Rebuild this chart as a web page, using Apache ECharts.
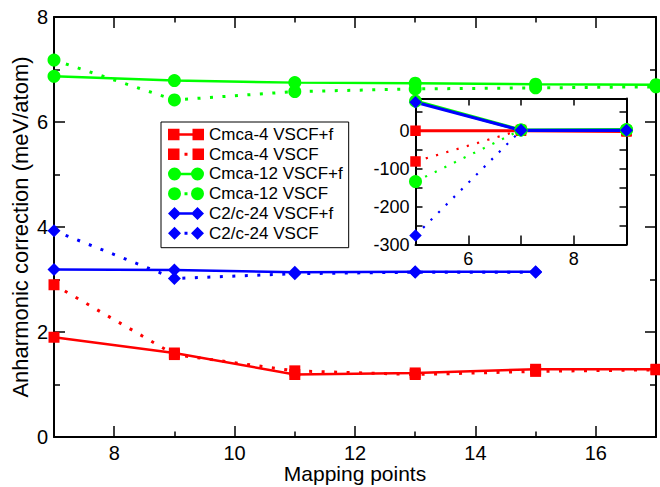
<!DOCTYPE html>
<html>
<head>
<meta charset="utf-8">
<script src="https://cdn.jsdelivr.net/npm/echarts@6/dist/echarts.min.js"></script>
<style>
  html, body { margin: 0; padding: 0; background: #fff; }
  #chart { width: 660px; height: 487px; }
</style>
</head>
<body>
<div id="chart"></div>
<script>
// ---- data (main plot) ----
const mappingPoints = [7, 9, 11, 13, 15, 17];
const c2cPoints = [7, 9, 11, 13, 15];
const cmca4VSCFf = [1.90, 1.60, 1.19, 1.22, 1.29, 1.29];
const cmca4VSCF = [2.90, 1.57, 1.26, 1.19, 1.25, 1.28];
const cmca12VSCFf = [6.87, 6.79, 6.75, 6.74, 6.72, 6.71];
const cmca12VSCF = [7.18, 6.42, 6.58, 6.63, 6.65, 6.67];
const c2c24VSCFf = [3.19, 3.18, 3.14, 3.15, 3.15];
const c2c24VSCF = [3.93, 3.02, 3.11, 3.14, 3.14];

// ---- data (inset) ----
const insetPoints = [5, 7, 9];
const insetCmca4VSCFf = [0, 0, -2];
const insetCmca4VSCF = [-81, 2, 0];
const insetCmca12VSCFf = [78, 2, 3];
const insetCmca12VSCF = [-134, 2, 2];
const insetC2c24VSCFf = [75, 1, 1];
const insetC2c24VSCF = [-276, 1, 1];

// ---- ticks / labels ----
const mainXTicks = [7, 8, 9, 10, 11, 12, 13, 14, 15, 16, 17];
const mainYTicks = [0, 1, 2, 3, 4, 5, 6, 7, 8];
const insetXTicks = [5, 6, 7, 8, 9];
const insetYTicks = [-300, -250, -200, -150, -100, -50, 0, 50];
const seriesNames = ['Cmca-4 VSCF+f', 'Cmca-4 VSCF', 'Cmca-12 VSCF+f', 'Cmca-12 VSCF', 'C2/c-24 VSCF+f', 'C2/c-24 VSCF'];
const xTitle = 'Mapping points';
const yTitle = 'Anharmonic correction (meV/atom)';

const RED = '#ff0000', GREEN = '#00ff00', BLUE = '#0000ff';
const FONT = 'Liberation Sans, Arial, sans-serif';

function pairs(xs, ys) { return xs.map((x, i) => [x, ys[i]]); }

const pin = 'M0,0L0,0M36,13L36,13';
const icons = {
  rectSolid: 'path://' + pin + 'M0,0.75H11.5V12.25H0ZM24.5,0.75H36V12.25H24.5ZM11.5,5.25H24.5V7.75H11.5Z',
  rectDot: 'path://' + pin + 'M0,0.75H11.5V12.25H0ZM24.5,0.75H36V12.25H24.5ZM16.5,5H19.5V8H16.5Z',
  circSolid: 'path://' + pin + 'M0,6.5A6.5,6.5 0 1,1 13,6.5A6.5,6.5 0 1,1 0,6.5ZM23,6.5A6.5,6.5 0 1,1 36,6.5A6.5,6.5 0 1,1 23,6.5ZM12,5.25H24V7.75H12Z',
  circDot: 'path://' + pin + 'M0,6.5A6.5,6.5 0 1,1 13,6.5A6.5,6.5 0 1,1 0,6.5ZM23,6.5A6.5,6.5 0 1,1 36,6.5A6.5,6.5 0 1,1 23,6.5ZM16.5,5H19.5V8H16.5Z',
  diaSolid: 'path://' + pin + 'M0,6.5L6.5,0L13,6.5L6.5,13ZM23,6.5L29.5,0L36,6.5L29.5,13ZM12,5.25H24V7.75H12Z',
  diaDot: 'path://' + pin + 'M0,6.5L6.5,0L13,6.5L6.5,13ZM23,6.5L29.5,0L36,6.5L29.5,13ZM16.5,5H19.5V8H16.5Z'
};

const black = { color: '#000', width: 2 };

// ---- layout of the two plot boxes ----
const MAIN = { left: 54, top: 17, width: 602, height: 420 };
const INSET = { left: 415.5, top: 98.5, width: 211, height: 146 };
const insetYMax = 85, insetYMin = -300;

function mainX(pos, showLabel) {
  return {
    type: 'value', gridIndex: 0, position: pos, min: 7, max: 17, interval: 1,
    axisLine: { show: true, onZero: false, lineStyle: black },
    axisTick: { show: false },
    axisLabel: { show: showLabel, formatter: v => (v % 2 === 0 ? String(v) : ''),
                 fontSize: 20, fontFamily: FONT, color: '#000', margin: 6 },
    splitLine: { show: false },
    name: showLabel ? xTitle : '', nameLocation: 'middle', nameGap: 26, nameMoveOverlap: false,
    nameTextStyle: { fontSize: 21, fontFamily: FONT, color: '#000' }
  };
}
function mainY(pos, showLabel) {
  return {
    type: 'value', gridIndex: 0, position: pos, min: 0, max: 8, interval: 2,
    axisLine: { show: true, onZero: false, lineStyle: black },
    axisTick: { show: false },
    axisLabel: { show: showLabel, fontSize: 20, fontFamily: FONT, color: '#000', margin: 6 },
    splitLine: { show: false },
    name: showLabel ? yTitle : '', nameLocation: 'middle', nameGap: 23, nameRotate: 90, nameMoveOverlap: false,
    nameTextStyle: { fontSize: 22, fontFamily: FONT, color: '#000' }
  };
}
function insetX(pos, showLabel) {
  return {
    type: 'value', gridIndex: 1, position: pos, min: 5, max: 9, interval: 1,
    axisLine: { show: true, onZero: false, lineStyle: black },
    axisTick: { show: false },
    axisLabel: { show: showLabel, formatter: v => (v % 2 === 0 ? String(v) : ''),
                 fontSize: 18, fontFamily: FONT, color: '#000', margin: 5 },
    splitLine: { show: false }
  };
}
function insetY(pos, showLabel) {
  return {
    type: 'value', gridIndex: 1, position: pos, min: insetYMin, max: insetYMax, interval: 50,
    axisLine: { show: true, onZero: false, lineStyle: black },
    axisTick: { show: false },
    axisLabel: { show: showLabel, formatter: v => (v % 100 === 0 && v <= 0 ? String(v) : ''),
                 fontSize: 18, fontFamily: FONT, color: '#000', margin: 6 },
    splitLine: { show: false }
  };
}

function mkSeries(name, xs, ys, color, symbol, size, dotted, xi, yi, inset) {
  return {
    name: name, type: 'line', xAxisIndex: xi, yAxisIndex: yi,
    data: pairs(xs, ys), symbol: symbol, symbolSize: size, showSymbol: true,
    itemStyle: { color: color, borderWidth: 0 },
    lineStyle: { color: color, width: dotted ? (inset ? 2.2 : 3) : (inset ? 3.2 : 2.5),
                 type: dotted ? (inset ? [2.2, 8.5] : [3, 9.5]) : 'solid', cap: 'butt' },
    emphasis: { disabled: true }, animation: false, z: 5
  };
}

const grids = [
  Object.assign({ show: false, outerBoundsMode: 'none', containLabel: false }, MAIN),
  Object.assign({ show: false, outerBoundsMode: 'none', containLabel: false }, INSET)
];
const xAxes = [mainX('bottom', true), mainX('top', false), insetX('bottom', true), insetX('top', false)];
const yAxes = [mainY('left', true), mainY('right', false), insetY('left', true), insetY('right', false)];

// ---- inward tick marks: thin strips along each frame edge whose split lines form the ticks ----
const hidden = { show: false };
function tickStrip(rect, orient, cats, pick) {
  const gi = grids.length;
  grids.push(Object.assign({ show: false, outerBoundsMode: 'none', containLabel: false }, rect));
  const catAxis = {
    type: 'category', gridIndex: gi, data: cats.map(String), boundaryGap: false,
    axisLine: hidden, axisTick: hidden, axisLabel: hidden,
    splitLine: { show: true, interval: (i, v) => pick(Number(v)), lineStyle: { color: '#000', width: 1.5 } }
  };
  const valAxis = { type: 'value', gridIndex: gi, axisLine: hidden, axisTick: hidden, axisLabel: hidden, splitLine: hidden };
  if (orient === 'x') { xAxes.push(catAxis); yAxes.push(valAxis); }
  else { yAxes.push(catAxis); xAxes.push(valAxis); }
}
const isEven = v => v % 2 === 0, isOdd = v => v % 2 !== 0;
const mainRight = MAIN.left + MAIN.width, mainBottom = MAIN.top + MAIN.height;
// main plot, bottom and top
tickStrip({ left: MAIN.left, top: mainBottom - 11, width: MAIN.width, height: 11 }, 'x', mainXTicks, isEven);
tickStrip({ left: MAIN.left, top: mainBottom - 5.5, width: MAIN.width, height: 5.5 }, 'x', mainXTicks, isOdd);
tickStrip({ left: MAIN.left, top: MAIN.top, width: MAIN.width, height: 11 }, 'x', mainXTicks, isEven);
tickStrip({ left: MAIN.left, top: MAIN.top, width: MAIN.width, height: 5.5 }, 'x', mainXTicks, isOdd);
// main plot, left and right
tickStrip({ left: MAIN.left, top: MAIN.top, width: 11, height: MAIN.height }, 'y', mainYTicks, v => isEven(v) && v > 0 && v < 8);
tickStrip({ left: MAIN.left, top: MAIN.top, width: 6, height: MAIN.height }, 'y', mainYTicks, isOdd);
tickStrip({ left: mainRight - 11, top: MAIN.top, width: 11, height: MAIN.height }, 'y', mainYTicks, v => isEven(v) && v > 0 && v < 8);
tickStrip({ left: mainRight - 6, top: MAIN.top, width: 6, height: MAIN.height }, 'y', mainYTicks, isOdd);
// inset, bottom and top
const insetRight = INSET.left + INSET.width, insetBottom = INSET.top + INSET.height;
tickStrip({ left: INSET.left, top: insetBottom - 9, width: INSET.width, height: 9 }, 'x', insetXTicks, v => v > 5 && v < 9);
tickStrip({ left: INSET.left, top: INSET.top, width: INSET.width, height: 7 }, 'x', insetXTicks, v => v > 5 && v < 9);
// inset, left and right (strip covers -300 .. 50 of the inset's value range)
const insetTickTop = INSET.top + INSET.height * (insetYMax - 50) / (insetYMax - insetYMin);
const insetTickH = INSET.height * (50 - insetYMin) / (insetYMax - insetYMin);
tickStrip({ left: INSET.left, top: insetTickTop, width: 7, height: insetTickH }, 'y', insetYTicks, v => v > insetYMin);
tickStrip({ left: insetRight - 7, top: insetTickTop, width: 7, height: insetTickH }, 'y', insetYTicks, v => v > insetYMin);

const series = [
  mkSeries(seriesNames[0], mappingPoints, cmca4VSCFf, RED, 'rect', 11, false, 0, 0),
  mkSeries(seriesNames[1], mappingPoints, cmca4VSCF, RED, 'rect', 11, true, 0, 0),
  mkSeries(seriesNames[2], mappingPoints, cmca12VSCFf, GREEN, 'circle', 13, false, 0, 0),
  mkSeries(seriesNames[3], mappingPoints, cmca12VSCF, GREEN, 'circle', 13, true, 0, 0),
  mkSeries(seriesNames[4], c2cPoints, c2c24VSCFf, BLUE, 'diamond', 13, false, 0, 0),
  mkSeries(seriesNames[5], c2cPoints, c2c24VSCF, BLUE, 'diamond', 13, true, 0, 0),
  mkSeries(seriesNames[0], insetPoints, insetCmca4VSCFf, RED, 'rect', 10.5, false, 2, 2, true),
  mkSeries(seriesNames[1], insetPoints, insetCmca4VSCF, RED, 'rect', 10.5, true, 2, 2, true),
  mkSeries(seriesNames[2], insetPoints, insetCmca12VSCFf, GREEN, 'circle', 13, false, 2, 2, true),
  mkSeries(seriesNames[3], insetPoints, insetCmca12VSCF, GREEN, 'circle', 13, true, 2, 2, true),
  mkSeries(seriesNames[4], insetPoints, insetC2c24VSCFf, BLUE, 'diamond', 12.5, false, 2, 2, true),
  mkSeries(seriesNames[5], insetPoints, insetC2c24VSCF, BLUE, 'diamond', 12.5, true, 2, 2, true)
];

const legendIcons = [icons.rectSolid, icons.rectDot, icons.circSolid, icons.circDot, icons.diaSolid, icons.diaDot];
const legendColors = [RED, RED, GREEN, GREEN, BLUE, BLUE];

const option = {
  animation: false,
  backgroundColor: '#fff',
  grid: grids,
  xAxis: xAxes,
  yAxis: yAxes,
  legend: {
    orient: 'vertical', left: 161, top: 122,
    padding: [4, 6, 6, 7], itemGap: 2.74, itemWidth: 36, itemHeight: 13,
    borderColor: '#000', borderWidth: 1, backgroundColor: '#fff',
    selectedMode: false,
    textStyle: { fontSize: 17, fontFamily: FONT, color: '#000', lineHeight: 16 },
    data: seriesNames.map((n, i) => ({ name: n, icon: legendIcons[i], itemStyle: { color: legendColors[i], borderWidth: 0 } }))
  },
  series: series
};

const chart = echarts.init(document.getElementById('chart'), null, { renderer: 'svg', width: 660, height: 487 });
chart.setOption(option);
</script>
</body>
</html>
